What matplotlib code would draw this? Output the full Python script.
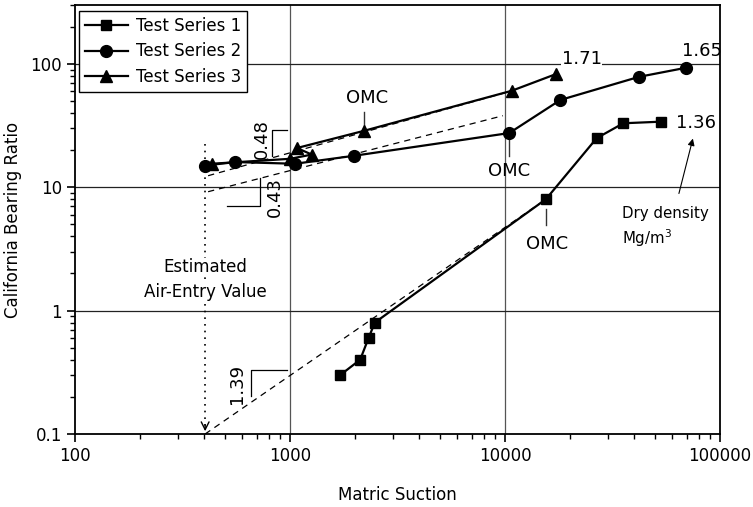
import matplotlib
matplotlib.use("Agg")
import matplotlib.pyplot as plt
from matplotlib.ticker import FixedLocator, FixedFormatter, LogLocator, NullFormatter

plt.rcParams['font.family'] = ['DejaVu Sans']

# Data
s1_x = [1710, 2120, 2320, 2480, 15500, 26700, 35500, 53200]
s1_y = [0.30, 0.40, 0.60, 0.80, 8.0, 25, 33, 34]
s2_x = [403, 557, 1055, 1990, 10470, 18100, 42000, 69500]
s2_y = [15.0, 16.0, 15.5, 18.0, 27.5, 51, 78.5, 93]
s3_x = [432, 1000, 1262, 1078, 2216, 10740, 17250]
s3_y = [15.5, 17.0, 18.4, 20.8, 28.7, 60.5, 82.6]

# Fitted dashed lines (endpoints)
fit1_x = [403, 15500]
fit1_y = [0.1, 8.0]
fit2_x = [416, 9780]
fit2_y = [9.2, 38.0]
fit3_x = [416, 10000]
fit3_y = [12.4, 58.3]
air_entry = 403

xticks = [100, 1000, 10000, 100000]
xtick_labels = ['100', '1000', '10000', '100000']
yticks = [0.1, 1, 10, 100]
ytick_labels = ['0.1', '1', '10', '100']

fig = plt.figure(figsize=(7.53, 5.07), dpi=100)
ax = fig.add_axes([75/753, 1-434/507, 645/753, 429/507])
ax.set_xscale('log')
ax.set_yscale('log')
ax.set_xlim(100, 100000)
ax.set_ylim(0.1, 300)

fs = 12
fs_t = 13
# grid
for v in [1000, 10000]:
    ax.axvline(v, color='#555555', lw=0.9, zorder=1)
for v in [1, 10, 100]:
    ax.axhline(v, color='#222222', lw=0.9, zorder=1)

# dashed lines
for fx, fy in [(fit1_x, fit1_y), (fit2_x, fit2_y), (fit3_x, fit3_y)]:
    ax.plot(fx, fy, color='black', lw=0.9, ls=(0, (5, 4)), zorder=2)

# air entry
ax.plot([air_entry, air_entry], [22.5, 0.108], color='black', lw=1.2, ls=(0, (1, 3)), zorder=2)
ax.annotate('', xy=(air_entry, 0.1), xytext=(air_entry, 0.125),
            arrowprops=dict(arrowstyle='->', color='black', lw=1.0, mutation_scale=14), zorder=3)
ax.text(air_entry, 2.24, 'Estimated', ha='center', va='center', fontsize=fs,
        bbox=dict(facecolor='white', edgecolor='none', pad=0.5), zorder=4)
ax.text(air_entry, 1.41, 'Air-Entry Value', ha='center', va='center', fontsize=fs,
        bbox=dict(facecolor='white', edgecolor='none', pad=0.5), zorder=4)

ax.plot(s1_x, s1_y, color='black', lw=1.6, marker='s', ms=7.5, label='Test Series 1', zorder=5)
ax.plot(s2_x, s2_y, color='black', lw=1.6, marker='o', ms=8.5, label='Test Series 2', zorder=5)
ax.plot(s3_x, s3_y, color='black', lw=1.6, marker='^', ms=9, label='Test Series 3', zorder=5)

# slope brackets
ax.plot([968, 824, 824], [29.3, 29.3, 17.8], color='black', lw=0.9, zorder=3)
ax.text(738, 24.8, '0.48', rotation=90, ha='center', va='center', fontsize=fs_t)
ax.plot([507, 725, 725], [7.1, 7.1, 11.9], color='black', lw=0.9, zorder=3)
ax.text(851, 8.4, '0.43', rotation=90, ha='center', va='center', fontsize=fs_t)
ax.plot([970, 656, 656], [0.33, 0.33, 0.203], color='black', lw=0.9, zorder=3)
ax.text(569, 0.255, '1.39', rotation=90, ha='center', va='center', fontsize=fs_t)

# OMC labels
ax.plot([2216, 2216], [41, 29.5], color='#333333', lw=1.0, zorder=3)
ax.text(2280, 53, 'OMC', ha='center', va='center', fontsize=fs_t)
ax.plot([10470, 10470], [24.5, 18.0], color='#333333', lw=1.0, zorder=3)
ax.text(10500, 13.6, 'OMC', ha='center', va='center', fontsize=fs_t)
ax.plot([15500, 15500], [6.7, 4.9], color='#333333', lw=1.0, zorder=3)
ax.text(15700, 3.45, 'OMC', ha='center', va='center', fontsize=fs_t)

# density labels
ax.text(18370, 109, '1.71', ha='left', va='center', fontsize=fs_t,
        bbox=dict(facecolor='white', edgecolor='none', pad=0.3), zorder=4)
ax.text(66500, 126, '1.65', ha='left', va='center', fontsize=fs_t)
ax.text(62200, 33, '1.36', ha='left', va='center', fontsize=fs_t)
ax.annotate('', xy=(74800, 24.8), xytext=(64400, 8.9),
            arrowprops=dict(arrowstyle='-|>', color='black', lw=0.8, mutation_scale=10,
                            shrinkA=0, shrinkB=0))
ax.text(34900, 6.1, 'Dry density', ha='left', va='center', fontsize=10.8)
ax.text(34900, 3.85, 'Mg/m$^3$', ha='left', va='center', fontsize=10.8)

# axes styling
ax.xaxis.set_major_locator(FixedLocator(xticks))
ax.xaxis.set_major_formatter(FixedFormatter(xtick_labels))
ax.yaxis.set_major_locator(FixedLocator(yticks))
ax.yaxis.set_major_formatter(FixedFormatter(ytick_labels))
ax.xaxis.set_minor_locator(LogLocator(base=10, subs=range(2, 10)))
ax.yaxis.set_minor_locator(LogLocator(base=10, subs=range(2, 10)))
ax.xaxis.set_minor_formatter(NullFormatter())
ax.yaxis.set_minor_formatter(NullFormatter())
ax.tick_params(which='major', direction='out', length=6, width=1.2, labelsize=fs)
ax.tick_params(which='minor', direction='out', length=3.5, width=1.0)
for sp in ax.spines.values():
    sp.set_linewidth(1.3)

ax.set_xlabel('Matric Suction', fontsize=fs, labelpad=15)
ax.set_ylabel('California Bearing Ratio', fontsize=fs, labelpad=6)

leg = ax.legend(loc='upper left', bbox_to_anchor=(0.006, 0.986), fontsize=fs,
                frameon=True, fancybox=False, edgecolor='black', framealpha=1,
                handlelength=2.6, borderpad=0.35, labelspacing=0.45, handletextpad=0.5,
                borderaxespad=0)
leg.get_frame().set_linewidth(1.0)

fig.savefig('out.png', dpi=100)
